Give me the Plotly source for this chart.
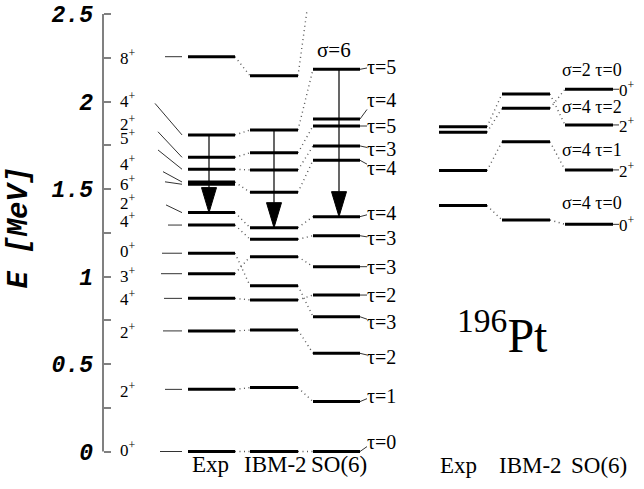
import plotly.graph_objects as go

# ---------------- data ----------------
# Left panel: 196Pt levels (MeV)
exp_E = [0.0, 0.355, 0.689, 0.875, 1.016, 1.133, 1.294, 1.365, 1.527, 1.540, 1.613, 1.681, 1.809, 2.256]
exp_J = ["0", "2", "2", "4", "3", "0", "4", "2", "6", "4", "5", "2", "4", "8"]
ibm_E = [0.0, 0.365, 0.694, 0.866, 0.947, 1.113, 1.213, 1.279, 1.481, 1.609, 1.707, 1.837, 2.147]
so6_E = [0.0, 0.285, 0.561, 0.770, 0.894, 1.056, 1.233, 1.342, 1.664, 1.746, 1.860, 1.900, 2.184]
so6_tau = [0, 1, 2, 3, 2, 3, 3, 4, 4, 3, 5, 4, 5]
so6_8plus_E = 2.77  # SO(6) 8+ level, above the plotted range

# level correspondences (index pairs)
exp_ibm_links = [(0, 0), (1, 1), (2, 2), (3, 3), (4, 5), (5, 4), (6, 6), (7, 7), (9, 8),
                 (10, 9), (11, 10), (12, 11), (13, 12)]
ibm_so6_links = [(0, 0), (1, 1), (2, 2), (3, 4), (4, 3), (5, 5), (6, 6), (7, 7), (8, 8),
                 (9, 9), (10, 10), (11, 12)]

# E2 transitions (from level index, to level index)
exp_arrow = (12, 7)
ibm_arrow = (11, 7)
so6_arrow = (12, 7)

# Right panel: 0+ / 2+ states
r_exp_E = [1.405, 1.605, 1.824, 1.856]
r_ibm_E = [1.323, 1.770, 1.961, 2.043]
r_so6_E = [1.298, 1.609, 1.866, 2.070]
r_so6_J = ["0", "2", "2", "0"]
r_so6_q = ["σ=4 τ=0", "σ=4 τ=1", "σ=4 τ=2", "σ=2 τ=0"]
r_exp_ibm_links = [(0, 0), (1, 1), (2, 2), (3, 3)]
r_ibm_so6_links = [(0, 0), (1, 1), (2, 3), (3, 2)]

col_names = ["Exp", "IBM-2", "SO(6)"]
y_ticks = [0, 0.25, 0.5, 0.75, 1.0, 1.25, 1.5, 1.75, 2.0, 2.25, 2.5]
y_ticktext = ["0", "", "0.5", "", "1", "", "1.5", "", "2", "", "2.5"]

# ---------------- layout helpers ----------------
W, H = 644, 489
Y0, Y1 = -0.2143, 2.58
PXE = H / (Y1 - Y0)          # pixels per MeV


def dE(px):
    return px / PXE


# column x extents (pixel-based x axis)
L_cols = [(188, 235), (250, 298), (313, 360)]
R_cols = [(439, 487), (502, 550), (565, 613)]
L_title_x = [210, 275, 339]
R_title_x = [458, 530, 599]
AXIS_X = 103

# label placement (MeV) for spin labels on the left of Exp
exp_lab_E = [0.014, 0.351, 0.689, 0.875, 1.009, 1.151, 1.323, 1.427, 1.536, 1.647, 1.797, 1.875, 2.009, 2.256]
exp_lead_E = [0.0, 0.355, 0.689, 0.875, 1.016, 1.133, 1.294, 1.409, 1.541, 1.599, 1.723, 1.827, 1.989, 2.256]
exp_lead_x = [160, 165, 163, 164, 161, 162, 168, 166, 165, 163, 158, 158, 155, 165]
so6_lab_E = [0.056, 0.319, 0.542, 0.742, 0.894, 1.056, 1.220, 1.363, 1.620, 1.729, 1.860, 2.009, 2.199]
r_lab_E = [1.418, 1.723, 1.970, 2.180]

fig = go.Figure()

GREY = "#555555"
DOTS = "1px,3.5px"
MONO = "Liberation Mono"


def add_levels(levels, col, width=3):
    xs, ys = [], []
    for e in levels:
        xs += [col[0], col[1], None]
        ys += [e, e, None]
    fig.add_trace(go.Scatter(x=xs, y=ys, mode="lines", line=dict(color="black", width=width),
                             hoverinfo="skip", showlegend=False))


def add_links(a_levels, b_levels, links, xa, xb):
    xs, ys = [], []
    for i, j in links:
        xs += [xa, xb, None]
        ys += [a_levels[i], b_levels[j], None]
    fig.add_trace(go.Scatter(x=xs, y=ys, mode="lines",
                             line=dict(color=GREY, width=1.4, dash=DOTS),
                             hoverinfo="skip", showlegend=False))


def add_arrow(x, e_from, e_to):
    head_h = dE(25)
    half_w = 7.5
    fig.add_trace(go.Scatter(x=[x, x], y=[e_from, e_to + head_h], mode="lines",
                             line=dict(color="black", width=1.2),
                             hoverinfo="skip", showlegend=False))
    fig.add_trace(go.Scatter(x=[x - half_w, x + half_w, x, x - half_w],
                             y=[e_to + head_h, e_to + head_h, e_to, e_to + head_h],
                             mode="lines", fill="toself", fillcolor="black",
                             line=dict(color="black", width=1),
                             hoverinfo="skip", showlegend=False))


# connectors
add_links(exp_E, ibm_E, exp_ibm_links, L_cols[0][1], L_cols[1][0])
add_links(ibm_E, so6_E, ibm_so6_links, L_cols[1][1], L_cols[2][0])
# IBM-2 8+ to off-range SO(6) 8+ (truncated at top of axis)
e_top = 2.52
frac = (e_top - ibm_E[12]) / (so6_8plus_E - ibm_E[12])
fig.add_trace(go.Scatter(x=[L_cols[1][1], L_cols[1][1] + frac * (L_cols[2][0] - L_cols[1][1])],
                         y=[ibm_E[12], e_top], mode="lines",
                         line=dict(color=GREY, width=1.4, dash=DOTS),
                         hoverinfo="skip", showlegend=False))
add_links(r_exp_E, r_ibm_E, r_exp_ibm_links, R_cols[0][1], R_cols[1][0])
add_links(r_ibm_E, r_so6_E, r_ibm_so6_links, R_cols[1][1], R_cols[2][0])

# levels
add_levels(exp_E, L_cols[0])
add_levels(ibm_E, L_cols[1])
add_levels(so6_E, L_cols[2])
add_levels(r_exp_E, R_cols[0])
add_levels(r_ibm_E, R_cols[1])
add_levels(r_so6_E, R_cols[2])

# arrows
add_arrow(209, exp_E[exp_arrow[0]], exp_E[exp_arrow[1]])
add_arrow(274, ibm_E[ibm_arrow[0]], ibm_E[ibm_arrow[1]])
add_arrow(339, so6_E[so6_arrow[0]], so6_E[so6_arrow[1]])

# leaders for Exp spin labels
xs, ys = [], []
for e, le, lx in zip(exp_E, exp_lead_E, exp_lead_x):
    xs += [lx, 182, None]
    ys += [le, e, None]
fig.add_trace(go.Scatter(x=xs, y=ys, mode="lines", line=dict(color="#333333", width=1),
                         hoverinfo="skip", showlegend=False))

# leaders for SO(6) tau labels
xs, ys = [], []
for e, le in zip(so6_E, so6_lab_E):
    xs += [L_cols[2][1], 367, None]
    ys += [e, (e + le) / 2, None]
# leaders for right SO(6) spin labels
for e in r_so6_E:
    xs += [R_cols[2][1], 619, None]
    ys += [e, e, None]
fig.add_trace(go.Scatter(x=xs, y=ys, mode="lines", line=dict(color="#333333", width=1),
                         hoverinfo="skip", showlegend=False))

# y axis line
fig.add_shape(type="line", x0=AXIS_X, x1=AXIS_X, y0=0, y1=2.5, xref="x", yref="y",
              line=dict(color="#808080", width=2))

ann = []
SERIF = "Liberation Serif"
for j, le in zip(exp_J, exp_lab_E):
    ann.append(dict(x=128, y=le, text=f"{j}<sup>+</sup>", showarrow=False,
                    xanchor="center", yanchor="middle",
                    font=dict(family=SERIF, size=17, color="black")))
for t, le in zip(so6_tau, so6_lab_E):
    ann.append(dict(x=365, y=le, text=f"τ={t}", showarrow=False,
                    xanchor="left", yanchor="middle",
                    font=dict(family=SERIF, size=20, color="black")))
ann.append(dict(x=315, y=so6_E[12] + dE(19), text="σ=6", showarrow=False,
                xanchor="left", yanchor="middle",
                font=dict(family=SERIF, size=21, color="black")))
for q, le in zip(r_so6_q, r_lab_E):
    ann.append(dict(x=560, y=le, text=q, showarrow=False, xanchor="left", yanchor="middle",
                    font=dict(family=SERIF, size=18, color="black")))
for j, e in zip(r_so6_J, r_so6_E):
    ann.append(dict(x=617, y=e, text=f"{j}<sup>+</sup>", showarrow=False,
                    xanchor="left", yanchor="middle",
                    font=dict(family=SERIF, size=17, color="black")))
# column titles
for name, cx in zip(col_names, L_title_x):
    ann.append(dict(x=cx, y=-dE(13), text=name, showarrow=False,
                    xanchor="center", yanchor="middle",
                    font=dict(family=SERIF, size=23, color="black")))
for name, cx in zip(col_names, R_title_x):
    ann.append(dict(x=cx, y=-dE(14), text=name, showarrow=False,
                    xanchor="center", yanchor="middle",
                    font=dict(family=SERIF, size=23, color="black")))
# nucleus label
ann.append(dict(x=455, y=0.65 + dE(6), text="<sup>196</sup>Pt", showarrow=False,
                xanchor="left", yanchor="middle",
                font=dict(family=SERIF, size=48, color="black")))
# axis title
ann.append(dict(x=19, y=1.28, text="E [MeV]", showarrow=False, textangle=-90,
                xanchor="center", yanchor="middle",
                font=dict(family=MONO, size=29, color="black", style="italic", weight="bold")))

fig.update_layout(
    width=W, height=H, margin=dict(l=0, r=0, t=0, b=0),
    paper_bgcolor="white", plot_bgcolor="white",
    annotations=ann,
    xaxis=dict(range=[0, W], visible=False, fixedrange=True),
    yaxis=dict(range=[Y0, Y1], anchor="free", position=AXIS_X / W, side="left",
               showgrid=False, zeroline=False, showline=False,
               tickmode="array", tickvals=y_ticks, ticktext=y_ticktext,
               ticks="inside", ticklen=7, tickwidth=1.5, tickcolor="#808080",
               ticklabelstandoff=10,
               tickfont=dict(family=MONO, size=23, color="black", style="italic", weight="bold")),
    showlegend=False,
)

fig.write_html("out.html")
